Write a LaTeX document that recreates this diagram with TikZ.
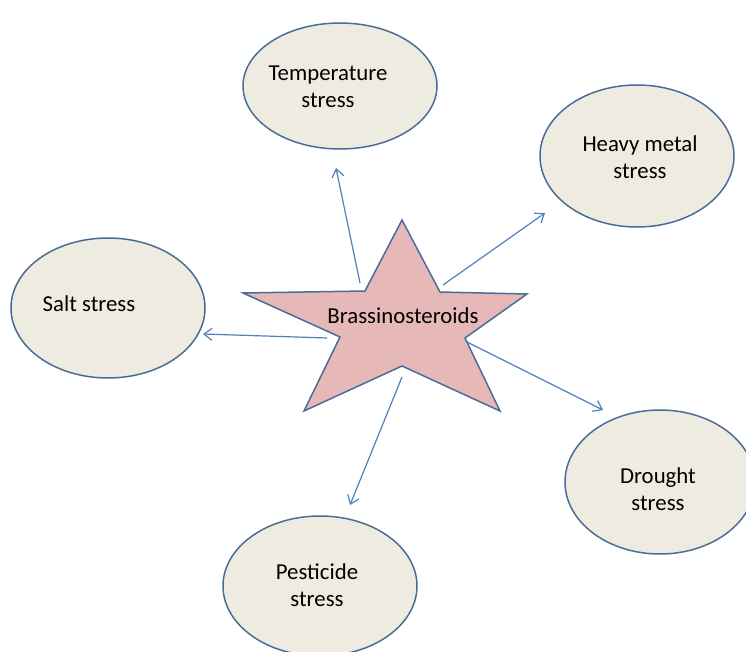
\documentclass[tikz,border=0pt]{standalone}
\usepackage{fontspec}
\setmainfont{Carlito}
\usetikzlibrary{shapes.geometric,arrows.meta}
\definecolor{ellfill}{HTML}{EEECE1}
\definecolor{ellline}{HTML}{4A6D97}
\definecolor{starfill}{HTML}{E6B9B8}
\definecolor{arrowc}{HTML}{4F81BD}
\tikzset{
  stressell/.style={ellipse, draw=ellline, fill=ellfill, line width=0.75pt, inner sep=0pt},
  lbl/.style={align=center, font=\fontsize{11.4}{13.7}\selectfont, inner sep=0pt},
  conn/.style={draw=arrowc, line width=0.6pt, -{Straight Barb[length=4pt,width=6pt,line width=0.6pt]}}
}
\begin{document}
\begin{tikzpicture}[x=0.5pt,y=-0.5pt]
\useasboundingbox (0,0) rectangle (746,652);
\clip (0,0) rectangle (746,652);
\fill[white] (0,0) rectangle (746,652);
% ellipses
\node[stressell, minimum width=97pt, minimum height=63pt] (temp) at (340,86) {};
\node[stressell, minimum width=97pt, minimum height=71pt] (heavy) at (637,156) {};
\node[stressell, minimum width=97pt, minimum height=70pt] (salt) at (108,308) {};
\node[stressell, minimum width=95pt, minimum height=72pt] (drought) at (660,482) {};
\node[stressell, minimum width=97pt, minimum height=70pt] (pest) at (320,586) {};
% labels
\node[lbl] (tempt) at (328,87) {Temperature\\stress};
\node[lbl] (heavyt) at (640,157) {Heavy metal\\stress};
\node[lbl] (saltt) at (89,304) {Salt stress};
\node[lbl] (droughtt) at (658,489) {Drought\\stress};
\node[lbl] (pestt) at (317,585) {Pesticide\\stress};
% star
\draw[draw=ellline, fill=starfill, line width=0.75pt, line join=miter]
  (402,220) -- (440,292) -- (527,294) -- (465,338) -- (500,411) -- (402,366)
  -- (304,411) -- (340,337) -- (243,293) -- (365,291) -- cycle;
\node[lbl] (brs) at (403,316) {Brassinosteroids};
% connector end points
\coordinate (a1) at (360,283); \coordinate (b1) at (336,168);
\coordinate (a2) at (443,285); \coordinate (b2) at (545,213);
\coordinate (a3) at (327,338); \coordinate (b3) at (203,334);
\coordinate (a4) at (467,342); \coordinate (b4) at (603,410);
\coordinate (a5) at (402,377); \coordinate (b5) at (350,505);
\draw[conn] (a1) -- (b1);
\draw[conn] (a2) -- (b2);
\draw[conn] (a3) -- (b3);
\draw[conn] (a4) -- (b4);
\draw[conn] (a5) -- (b5);
\end{tikzpicture}
\end{document}
